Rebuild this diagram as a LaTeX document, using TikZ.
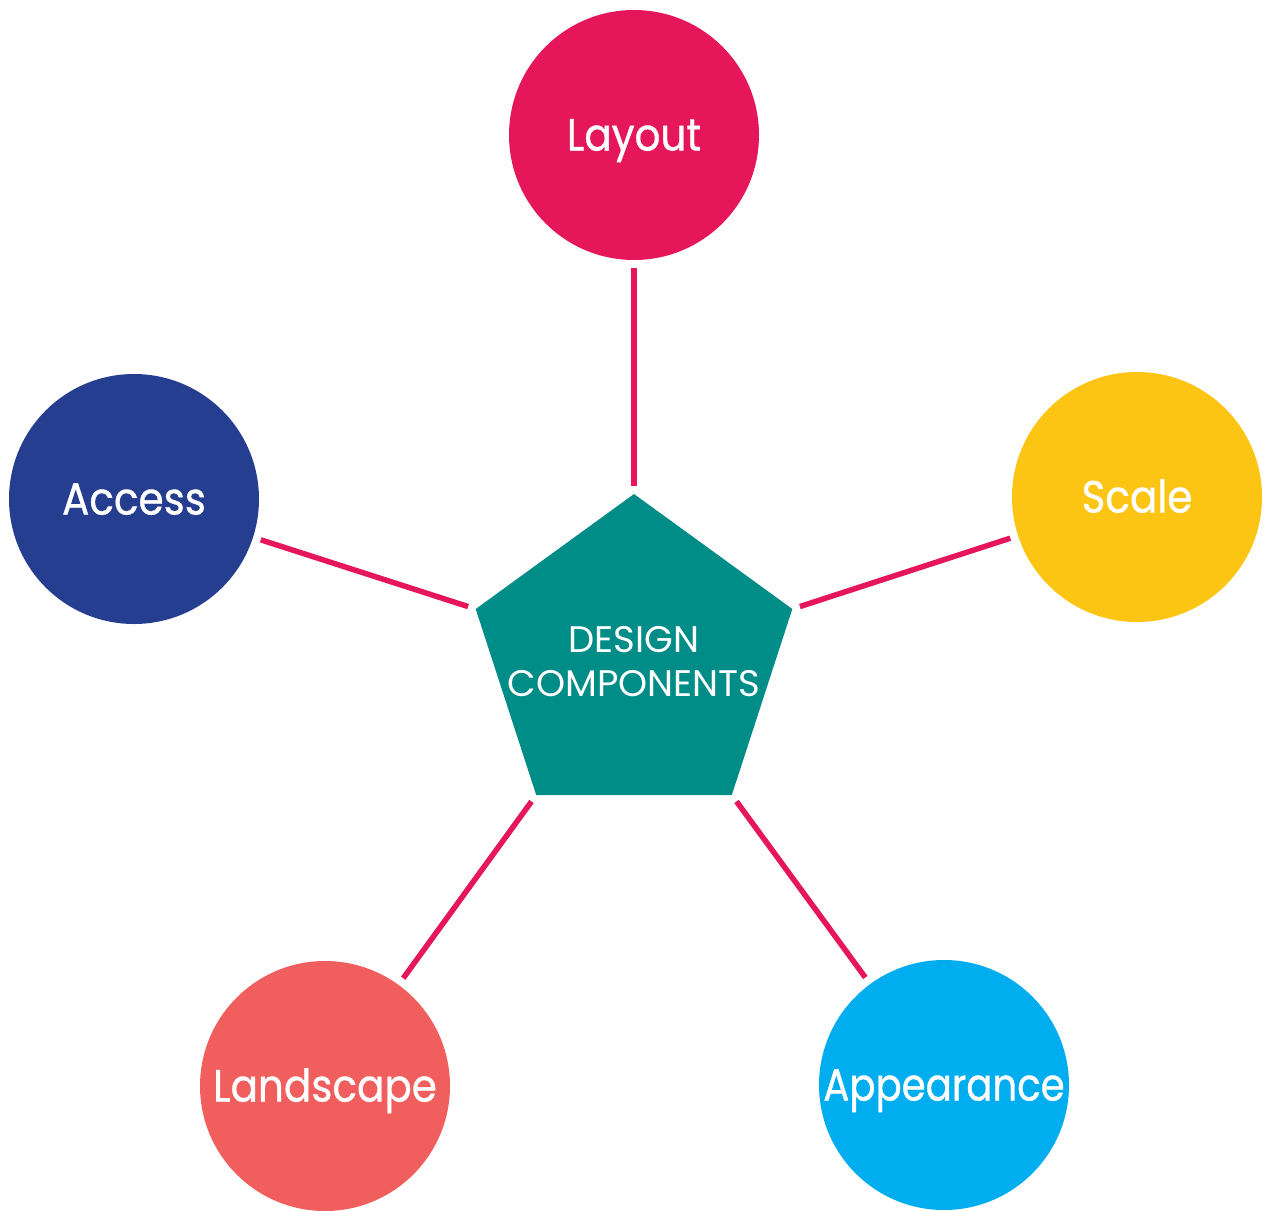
\documentclass[tikz,border=0pt]{standalone}
\usepackage{fontspec}
\setmainfont{Poppins}
\newfontfamily\topicfont{Poppins}[FakeStretch=0.9, FakeBold=0.8]
\newfontfamily\topicfontnarrow{Poppins}[FakeStretch=0.86, FakeBold=0.8]

\definecolor{linkpink}{RGB}{229,23,90}
\definecolor{layoutpink}{RGB}{229,23,90}
\definecolor{accessblue}{RGB}{37,62,143}
\definecolor{scaleyellow}{RGB}{253,197,19}
\definecolor{landscapered}{RGB}{240,95,94}
\definecolor{appearancecyan}{RGB}{0,174,239}
\definecolor{hubteal}{RGB}{0,140,135}

\tikzset{
  topic/.style={circle, minimum size=250pt, inner sep=0pt, text=white,
    text height=31pt, text depth=0pt,
    font=\topicfont\fontsize{45}{50}\selectfont},
  hubtext/.style={inner sep=0pt, text=white, align=center,
    font=\fontsize{37}{44}\selectfont},
  link/.style={draw=linkpink, line width=5.5pt, shorten <=8pt, shorten >=8pt}
}

\begin{document}
\begin{tikzpicture}[x=1pt, y=-1pt]
  \useasboundingbox (0,0) rectangle (1268,1210);

  % corners of the central pentagon
  \coordinate (c1) at (634,494);
  \coordinate (c2) at (475.7,609);
  \coordinate (c3) at (536.2,795);
  \coordinate (c4) at (731.8,795);
  \coordinate (c5) at (792.3,609);
  \fill[hubteal] (c1) -- (c2) -- (c3) -- (c4) -- (c5) -- cycle;
  \node[hubtext] (hub) at (634,662) {DESIGN\\COMPONENTS};

  % surrounding topics
  \node[topic, fill=layoutpink]     (layout)     at (634,135)  {Layout};
  \node[topic, fill=accessblue]     (access)     at (134,499)  {Access};
  \node[topic, fill=scaleyellow]    (scale)      at (1137,497) {Scale};
  \node[topic, fill=landscapered]   (landscape)  at (325,1086) {Landscape};
  \node[topic, fill=appearancecyan,
        font=\topicfontnarrow\fontsize{45}{50}\selectfont]
                                    (appearance) at (944,1085) {Appearance};

  % spokes from each topic to its pentagon corner
  \draw[link] (layout)     -- (c1);
  \draw[link] (access)     -- (c2);
  \draw[link] (landscape)  -- (c3);
  \draw[link] (appearance) -- (c4);
  \draw[link] (scale)      -- (c5);
\end{tikzpicture}
\end{document}
